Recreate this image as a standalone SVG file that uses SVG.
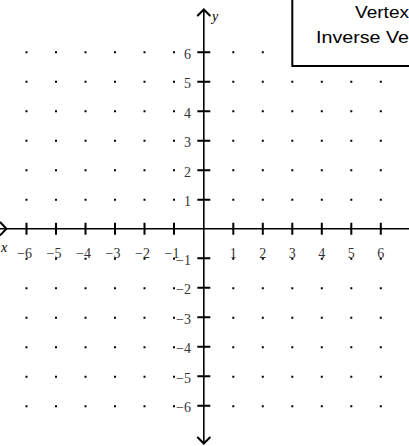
<svg xmlns="http://www.w3.org/2000/svg" width="409" height="446" viewBox="0 0 409 446">
<defs>
<style>
.ax{stroke:#000;stroke-width:1.6;fill:none}
.tk{stroke:#000;stroke-width:2;fill:none}
.ah{stroke:#000;stroke-width:2;fill:none;stroke-linecap:round;stroke-linejoin:miter}
.n{font-family:"Liberation Serif","Times New Roman",serif;font-size:14px;fill:#333}
.xl{text-anchor:middle}
.yl{text-anchor:end}
.v{font-family:"Liberation Serif","Times New Roman",serif;font-size:14px;font-style:italic;fill:#000}
.bt{font-family:"Liberation Sans",Arial,sans-serif;font-size:17px;fill:#000}
.dot{fill:#000}
</style>
</defs>
<rect width="409" height="446" fill="#fff"/>
<g id="grid-dots" class="dot">
<path d="M25.5,51.2h2v2h-2zM55,51.2h2v2h-2zM84.5,51.2h2v2h-2zM114,51.2h2v2h-2zM143.5,51.2h2v2h-2zM173,51.2h2v2h-2zM232.3,51.2h2v2h-2zM261.8,51.2h2v2h-2z
M25.5,80.7h2v2h-2zM55,80.7h2v2h-2zM84.5,80.7h2v2h-2zM114,80.7h2v2h-2zM143.5,80.7h2v2h-2zM173,80.7h2v2h-2zM232.3,80.7h2v2h-2zM261.8,80.7h2v2h-2zM291.3,80.7h2v2h-2zM320.8,80.7h2v2h-2zM350.3,80.7h2v2h-2zM379.8,80.7h2v2h-2z
M25.5,110.2h2v2h-2zM55,110.2h2v2h-2zM84.5,110.2h2v2h-2zM114,110.2h2v2h-2zM143.5,110.2h2v2h-2zM173,110.2h2v2h-2zM232.3,110.2h2v2h-2zM261.8,110.2h2v2h-2zM291.3,110.2h2v2h-2zM320.8,110.2h2v2h-2zM350.3,110.2h2v2h-2zM379.8,110.2h2v2h-2z
M25.5,139.7h2v2h-2zM55,139.7h2v2h-2zM84.5,139.7h2v2h-2zM114,139.7h2v2h-2zM143.5,139.7h2v2h-2zM173,139.7h2v2h-2zM232.3,139.7h2v2h-2zM261.8,139.7h2v2h-2zM291.3,139.7h2v2h-2zM320.8,139.7h2v2h-2zM350.3,139.7h2v2h-2zM379.8,139.7h2v2h-2z
M25.5,169.2h2v2h-2zM55,169.2h2v2h-2zM84.5,169.2h2v2h-2zM114,169.2h2v2h-2zM143.5,169.2h2v2h-2zM173,169.2h2v2h-2zM232.3,169.2h2v2h-2zM261.8,169.2h2v2h-2zM291.3,169.2h2v2h-2zM320.8,169.2h2v2h-2zM350.3,169.2h2v2h-2zM379.8,169.2h2v2h-2z
M25.5,198.7h2v2h-2zM55,198.7h2v2h-2zM84.5,198.7h2v2h-2zM114,198.7h2v2h-2zM143.5,198.7h2v2h-2zM173,198.7h2v2h-2zM232.3,198.7h2v2h-2zM261.8,198.7h2v2h-2zM291.3,198.7h2v2h-2zM320.8,198.7h2v2h-2zM350.3,198.7h2v2h-2zM379.8,198.7h2v2h-2z
M25.5,257.7h2v2h-2zM55,257.7h2v2h-2zM84.5,257.7h2v2h-2zM114,257.7h2v2h-2zM143.5,257.7h2v2h-2zM173,257.7h2v2h-2zM232.3,257.7h2v2h-2zM261.8,257.7h2v2h-2zM291.3,257.7h2v2h-2zM320.8,257.7h2v2h-2zM350.3,257.7h2v2h-2zM379.8,257.7h2v2h-2z
M25.5,287.2h2v2h-2zM55,287.2h2v2h-2zM84.5,287.2h2v2h-2zM114,287.2h2v2h-2zM143.5,287.2h2v2h-2zM173,287.2h2v2h-2zM232.3,287.2h2v2h-2zM261.8,287.2h2v2h-2zM291.3,287.2h2v2h-2zM320.8,287.2h2v2h-2zM350.3,287.2h2v2h-2zM379.8,287.2h2v2h-2z
M25.5,316.7h2v2h-2zM55,316.7h2v2h-2zM84.5,316.7h2v2h-2zM114,316.7h2v2h-2zM143.5,316.7h2v2h-2zM173,316.7h2v2h-2zM232.3,316.7h2v2h-2zM261.8,316.7h2v2h-2zM291.3,316.7h2v2h-2zM320.8,316.7h2v2h-2zM350.3,316.7h2v2h-2zM379.8,316.7h2v2h-2z
M25.5,346.2h2v2h-2zM55,346.2h2v2h-2zM84.5,346.2h2v2h-2zM114,346.2h2v2h-2zM143.5,346.2h2v2h-2zM173,346.2h2v2h-2zM232.3,346.2h2v2h-2zM261.8,346.2h2v2h-2zM291.3,346.2h2v2h-2zM320.8,346.2h2v2h-2zM350.3,346.2h2v2h-2zM379.8,346.2h2v2h-2z
M25.5,375.7h2v2h-2zM55,375.7h2v2h-2zM84.5,375.7h2v2h-2zM114,375.7h2v2h-2zM143.5,375.7h2v2h-2zM173,375.7h2v2h-2zM232.3,375.7h2v2h-2zM261.8,375.7h2v2h-2zM291.3,375.7h2v2h-2zM320.8,375.7h2v2h-2zM350.3,375.7h2v2h-2zM379.8,375.7h2v2h-2z
M25.5,405.2h2v2h-2zM55,405.2h2v2h-2zM84.5,405.2h2v2h-2zM114,405.2h2v2h-2zM143.5,405.2h2v2h-2zM173,405.2h2v2h-2zM232.3,405.2h2v2h-2zM261.8,405.2h2v2h-2zM291.3,405.2h2v2h-2zM320.8,405.2h2v2h-2zM350.3,405.2h2v2h-2zM379.8,405.2h2v2h-2z"/>
</g>
<g id="axes">
<line class="ax" x1="0" y1="228.7" x2="409" y2="228.7"/>
<line class="ax" x1="203.8" y1="10" x2="203.8" y2="443"/>
<polyline class="ah" points="0.5,222.5 6.5,228.7 0.5,234.9"/>
<polyline class="ah" points="197.8,15.5 203.8,9.5 209.8,15.5"/>
<polyline class="ah" points="197.8,437.5 203.8,443.5 209.8,437.5"/>
<path class="tk" d="M26.5,222.7v12M56,222.7v12M85.5,222.7v12M115,222.7v12M144.5,222.7v12M174,222.7v12M233.3,222.7v12M262.8,222.7v12M292.3,222.7v12M321.8,222.7v12M351.3,222.7v12M380.8,222.7v12"/>
<path class="tk" d="M197.3,52.2h13M197.3,81.7h13M197.3,111.2h13M197.3,140.7h13M197.3,170.2h13M197.3,199.7h13M197.3,258.2h13M197.3,287.7h13M197.3,317.2h13M197.3,346.7h13M197.3,376.2h13M197.3,405.7h13"/>
</g>
<g id="axis-labels">
<text class="v" x="212" y="21">y</text>
<text class="v" x="1" y="252">x</text>
</g>
<g id="x-tick-labels" class="n xl">
<text x="24.5" y="258">−6</text>
<text x="54" y="258">−5</text>
<text x="83.5" y="258">−4</text>
<text x="113" y="258">−3</text>
<text x="142.5" y="258">−2</text>
<text x="172" y="258">−1</text>
<text x="233.3" y="258">1</text>
<text x="262.8" y="258">2</text>
<text x="292.3" y="258">3</text>
<text x="321.8" y="258">4</text>
<text x="351.3" y="258">5</text>
<text x="380.8" y="258">6</text>
</g>
<g id="y-tick-labels" class="n yl">
<text x="191" y="58.5">6</text>
<text x="191" y="88">5</text>
<text x="191" y="117.5">4</text>
<text x="191" y="147">3</text>
<text x="191" y="176.5">2</text>
<text x="191" y="206">1</text>
<text x="191" y="265">−1</text>
<text x="191" y="294">−2</text>
<text x="191" y="323.5">−3</text>
<text x="191" y="353">−4</text>
<text x="191" y="382.5">−5</text>
<text x="191" y="412">−6</text>
</g>
<g id="title-box">
<rect x="292.3" y="-5" width="130" height="71" fill="#fff" stroke="#000" stroke-width="2"/>
<text class="bt" x="355" y="18" textLength="54" lengthAdjust="spacingAndGlyphs">Vertex</text>
<text class="bt" x="316" y="43" textLength="93" lengthAdjust="spacingAndGlyphs">Inverse Ve</text>
</g>
</svg>
